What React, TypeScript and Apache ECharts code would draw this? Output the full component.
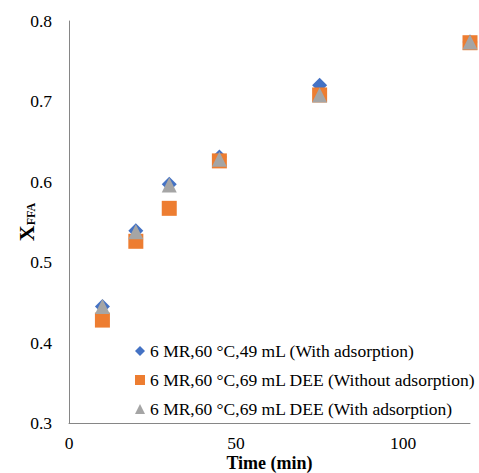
import React, { useEffect, useRef } from "react";
import * as echarts from "echarts";

const times = [10, 20, 30, 45, 75, 120];
const seriesNames = [
  "6 MR,60 °C,49 mL (With adsorption)",
  "6 MR,60 °C,69 mL DEE (Without adsorption)",
  "6 MR,60 °C,69 mL DEE (With adsorption)",
];
const withAds49 = [0.445, 0.539, 0.597, 0.631, 0.72, 0.774];
const withoutAds69 = [0.428, 0.526, 0.567, 0.626, 0.708, 0.773];
const withAds69 = [0.445, 0.538, 0.596, 0.628, 0.708, 0.774];
const xTicks = [0, 50, 100];
const yTicks = [0.3, 0.4, 0.5, 0.6, 0.7, 0.8];

const colors = ["#4472C4", "#ED7D31", "#A5A5A5"];
const symbols = ["diamond", "rect", "triangle"];
const FONT = "'Liberation Serif', 'Times New Roman', 'DejaVu Serif', serif";

export default function App() {
  const ref = useRef<HTMLDivElement>(null);
  useEffect(() => {
    if (!ref.current) return;
    const chart = echarts.init(ref.current, null, { renderer: "svg" });
    const all = [withAds49, withoutAds69, withAds69];
    chart.setOption({
      animation: false,
      backgroundColor: "#fff",
      grid: {
        left: 69,
        right: 9,
        top: 21,
        bottom: 50,
        containLabel: false,
        outerBoundsMode: "none",
      },
      xAxis: {
        type: "value",
        min: 0,
        max: 120,
        interval: 50,
        name: "Time (min)",
        nameLocation: "middle",
        nameGap: 31,
        nameMoveOverlap: false,
        nameTextStyle: { fontFamily: FONT, fontSize: 18, fontWeight: "bold", color: "#000" },
        axisLine: { show: true, lineStyle: { color: "#868686", width: 1 } },
        axisTick: { show: false },
        splitLine: { show: false },
        axisLabel: {
          fontFamily: FONT,
          fontSize: 17.5,
          color: "#000",
          margin: 11,
          formatter: (v: number) => (xTicks.includes(v) ? String(v) : ""),
        },
      },
      yAxis: {
        type: "value",
        min: 0.3,
        max: 0.8,
        interval: 0.1,
        name: "{x|X}{s|FFA}",
        nameLocation: "middle",
        nameGap: 32,
        nameMoveOverlap: false,
        nameTextStyle: {
          rich: {
            x: { fontFamily: FONT, fontSize: 22, fontWeight: "bold", color: "#000", lineHeight: 22 },
            s: { fontFamily: FONT, fontSize: 12, fontWeight: "bold", color: "#000", verticalAlign: "bottom", lineHeight: 12, padding: [6, 0, 0, 0] },
          },
        },
        axisLine: { show: true, lineStyle: { color: "#868686", width: 1 } },
        axisTick: { show: false },
        splitLine: { show: false },
        axisLabel: {
          fontFamily: FONT,
          fontSize: 17.5,
          color: "#000",
          margin: 17,
          formatter: (v: number) => {
            const t = yTicks.find((y) => Math.abs(y - v) < 1e-6);
            return t !== undefined ? t.toFixed(1) : "";
          },
        },
      },
      legend: {
        orient: "vertical",
        left: 135,
        top: 342,
        padding: 0,
        itemWidth: 10,
        itemHeight: 10,
        itemGap: 11,
        textStyle: { fontFamily: FONT, fontSize: 17.5, color: "#000" },
        data: seriesNames.map((n, i) => ({ name: n, icon: symbols[i] })),
      },
      series: seriesNames.map((n, i) => ({
        name: n,
        type: "scatter",
        symbol: symbols[i],
        symbolSize: 15,
        itemStyle: { color: colors[i], opacity: 1 },
        data: times.map((t, j) => [t, all[i][j]]),
      })),
    });
    return () => chart.dispose();
  }, []);
  return (
    <div
      ref={ref}
      style={{ position: "absolute", left: 0, top: 0, width: 479, height: 473 }}
    />
  );
}
